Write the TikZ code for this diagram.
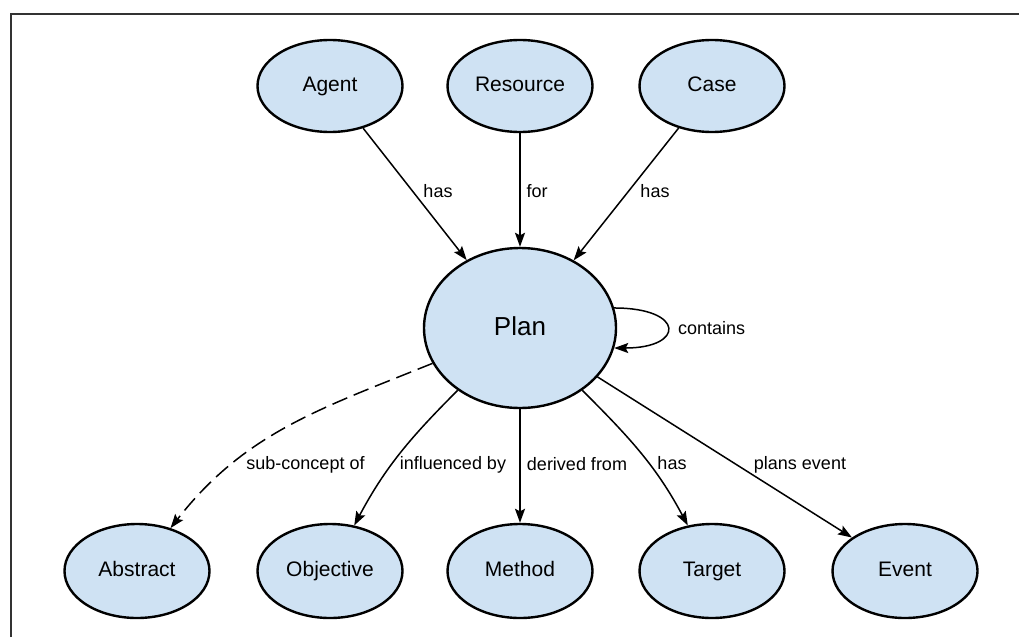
\documentclass[tikz,border=0pt]{standalone}
\usepackage{fontspec}
\setmainfont{Liberation Sans}
\usetikzlibrary{arrows.meta,shapes.geometric}
\definecolor{nodefill}{HTML}{CFE2F3}
\definecolor{framecol}{HTML}{333333}
\begin{document}
\begin{tikzpicture}[x=1pt,y=-1pt,
  concept/.style={ellipse,draw=black,line width=2.4pt,fill=nodefill,
    minimum width=145pt,minimum height=94pt,inner sep=0pt,
    text height=15pt,text depth=5pt,font=\fontsize{21}{24}\selectfont},
  topconcept/.style={concept,minimum height=92pt},
  bigconcept/.style={concept,minimum width=192pt,minimum height=160pt,
    text height=19pt,text depth=4pt,font=\fontsize{26}{30}\selectfont},
  rel/.style={line width=1.5pt,-{Stealth[length=14pt,width=10pt,inset=2.5pt]}},
  lab/.style={font=\fontsize{18}{21}\selectfont,inner sep=0pt,text height=13pt,text depth=4pt}
]
\useasboundingbox (0,0) rectangle (1019,637);
\coordinate (fa) at (11,637);
\coordinate (fb) at (11,14);
\coordinate (fc) at (1019,14);
\draw[framecol,line width=1.6pt] (fa) -- (fb) -- (fc);

\node[topconcept] (agent) at (330,86) {Agent};
\node[topconcept] (resource) at (520,86) {Resource};
\node[topconcept] (case) at (712,86) {Case};
\node[bigconcept] (plan) at (520,328) {Plan};
\node[concept] (abstract) at (137,571) {Abstract};
\node[concept] (objective) at (330,571) {Objective};
\node[concept] (method) at (520,571) {Method};
\node[concept] (target) at (712,571) {Target};
\node[concept] (event) at (905,571) {Event};

\draw[rel] (agent) -- (plan);
\draw[rel] (resource) -- (plan);
\draw[rel] (case) -- (plan);
\draw[rel] (plan.12) .. controls +(71,0) and +(71,0) .. (plan.-12);
\draw[rel,dash pattern=on 16pt off 7pt] (plan) to[out=202,in=52] (abstract);
\draw[rel] (plan) to[out=225,in=62] (objective);
\draw[rel] (plan) -- (method);
\draw[rel] (plan) to[out=-45,in=118] (target);
\draw[rel] (plan) -- (event);

\node[lab] (l1) at (438,193) {has};
\node[lab] (l2) at (537,193) {for};
\node[lab] (l3) at (655,193) {has};
\node[lab,anchor=west] (l4) at (678,330) {contains};
\node[lab] (l5) at (305.5,465) {sub-concept of};
\node[lab] (l6) at (453,465) {influenced by};
\node[lab] (l7) at (577,466) {derived from};
\node[lab] (l8) at (672,465) {has};
\node[lab] (l9) at (800,465) {plans event};
\end{tikzpicture}
\end{document}
